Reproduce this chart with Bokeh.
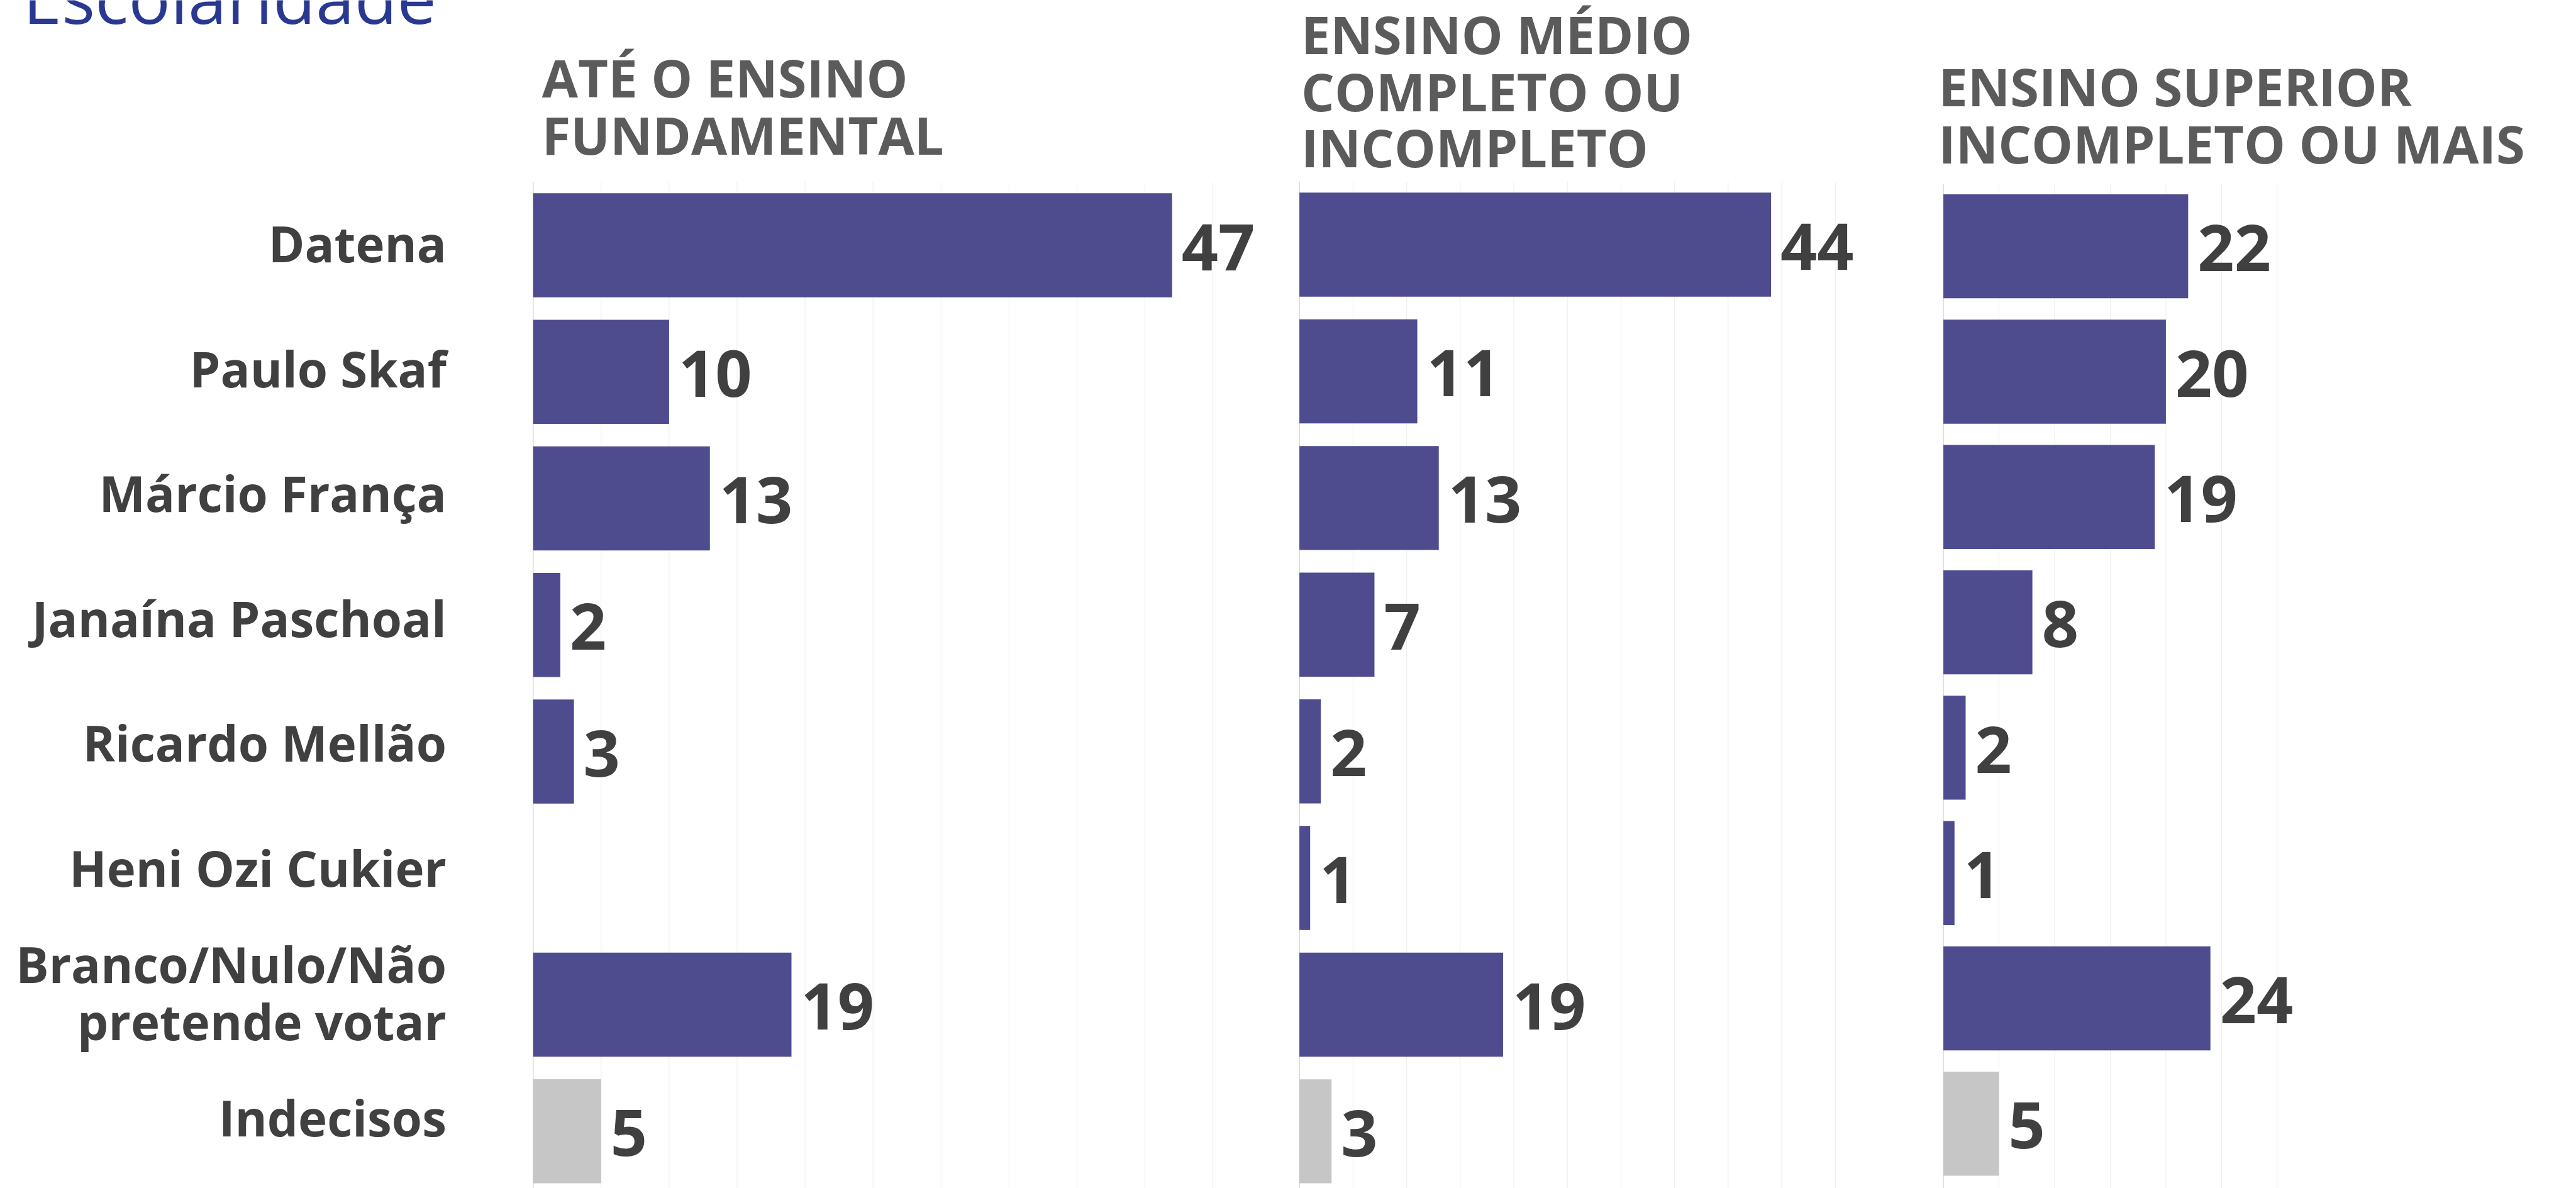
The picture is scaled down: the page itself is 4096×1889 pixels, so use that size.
from bokeh.plotting import figure
from bokeh.layouts import row
from bokeh.models import Range1d, Label, ColumnDataSource
from bokeh.core.properties import value
from bokeh.embed import file_html
from bokeh.resources import INLINE

# ---------------- data ----------------
title = "Escolaridade"
categories = ["Datena", "Paulo Skaf", "Márcio França", "Janaína Paschoal",
              "Ricardo Mellão", "Heni Ozi Cukier", "Branco/Nulo/Não\npretende votar",
              "Indecisos"]
panel_titles = ["ATÉ O ENSINO\nFUNDAMENTAL",
                "ENSINO MÉDIO\nCOMPLETO OU\nINCOMPLETO",
                "ENSINO SUPERIOR\nINCOMPLETO OU MAIS"]
fundamental = [47, 10, 13, 2, 3, None, 19, 5]
medio = [44, 11, 13, 7, 2, 1, 19, 3]
superior = [22, 20, 19, 8, 2, 1, 24, 5]
series = [fundamental, medio, superior]
grid_max = [50, 50, 30]
grid_step = 5

# ---------------- geometry (reference px, scaled by S) ----------------
S = 0.878
PAGE_W = 4096
CANVAS_H = 1889
FRAME_TOP = 0
FRAME_BOTTOM = CANVAS_H

zero_x_ref = [965.0, 2352.7, 3518.9]
unit_ref = [24.62, 19.41, 20.15]
row0_ref = [443.7, 442.5, 445.5]
pitch_ref = [229.2, 229.4, 227.0]
grid_top_ref = [328.7, 328.3, 332.3]
bar_h_ref = 188.4
cut_ref = [2300, 3450]

left_s = [0, round(cut_ref[0] * S), round(cut_ref[1] * S)]
widths = [left_s[1] - left_s[0], left_s[2] - left_s[1], PAGE_W - left_s[2]]

head_x_ref = [981.0, 2356.0, 3510.0]
head_base_ref = [[172.3, 276.3], [94.3, 198.3, 299.3], [189.0, 292.3]]

lab_right_ref = 808.0
lab_center0_ref = 440.3
lab_pitch_ref = 226.2
lab_line_ref = 103.5

title_x_ref = 41.0
title_base_ref = 39.0

CAP = 0.714
VAL_SIZE = 102
LAB_SIZE = 78
HEAD_SIZE = 83
TITLE_SIZE = 111

PURPLE = "#4e4c8f"
GRAY_BAR = "#c6c6c6"
DARK = "#404040"
HEAD_COL = "#5b5b5b"
TITLE_COL = "#293991"
GRID_COL = "#ededed"
ZERO_COL = "#d9d9d9"
FONT = "Open Sans"


def xdata(k, sx):
    return (sx - zero_x_ref[k] * S) / (unit_ref[k] * S)


def ydata(k, sy):
    return (sy - row0_ref[k] * S) / (pitch_ref[k] * S)


figs = []
for k in range(3):
    p = figure(width=widths[k], height=CANVAS_H,
               x_range=Range1d(xdata(k, left_s[k]), xdata(k, left_s[k] + widths[k])),
               y_range=Range1d(ydata(k, FRAME_BOTTOM), ydata(k, FRAME_TOP)),
               x_axis_location=None, y_axis_location=None,
               output_backend="svg", toolbar_location=None,
               min_border_left=0, min_border_right=0,
               min_border_top=0, min_border_bottom=0)
    p.outline_line_color = None
    p.background_fill_color = "white"
    p.border_fill_color = "white"
    for g in p.grid:
        g.visible = False

    # vertical gridlines, starting just above the first bar
    ticks = list(range(0, grid_max[k] + 1, grid_step))
    g_top = ydata(k, grid_top_ref[k] * S)
    g_bot = ydata(k, FRAME_BOTTOM + 5)
    p.segment(x0=ticks[1:], x1=ticks[1:], y0=[g_top] * (len(ticks) - 1),
              y1=[g_bot] * (len(ticks) - 1), line_color=GRID_COL, line_width=1)
    p.segment(x0=[ticks[0]], x1=[ticks[0]], y0=[g_top], y1=[g_bot],
              line_color=ZERO_COL, line_width=1.5)

    vals = series[k]
    pitch_s = pitch_ref[k] * S
    idx = list(range(len(categories)))
    colors = [GRAY_BAR if c == "Indecisos" else PURPLE for c in categories]
    src = ColumnDataSource(dict(
        y=idx,
        v=[float("nan") if v is None else v for v in vals],
        color=colors))
    p.hbar(y="y", left=0, right="v", height=bar_h_ref * S / pitch_s,
           fill_color="color", line_color=None, source=src)

    # value labels (vertically centred on the bar, a touch lower)
    shift = (3 * S) / pitch_s
    tx, ty, tt = [], [], []
    for i, v in enumerate(vals):
        if v is None:
            continue
        tx.append(v)
        ty.append(i + shift)
        tt.append(str(v))
    p.text(x=tx, y=ty, text=tt, x_offset=15, text_align="left",
           text_baseline="middle", text_font=value(FONT),
           text_font_style="bold", text_font_size=value(f"{VAL_SIZE}px"),
           text_color=DARK)

    # panel header (one label per line)
    for line, base in zip(panel_titles[k].split("\n"), head_base_ref[k]):
        cy = base - CAP * HEAD_SIZE / S / 2
        p.add_layout(Label(x=xdata(k, head_x_ref[k] * S), y=ydata(k, cy * S),
                           text=line, text_font=FONT, text_font_style="bold",
                           text_font_size=f"{HEAD_SIZE}px", text_color=HEAD_COL,
                           text_align="left", text_baseline="middle"))

    if k == 0:
        # category labels
        lx, ly, lt = [], [], []
        for i, c in enumerate(categories):
            lines = c.split("\n")
            n = len(lines)
            center = lab_center0_ref + lab_pitch_ref * i
            first = center - (n - 1) * lab_line_ref / 2
            for j, ln in enumerate(lines):
                lx.append(xdata(0, lab_right_ref * S))
                ly.append(ydata(0, (first + j * lab_line_ref) * S))
                lt.append(ln)
        p.text(x=lx, y=ly, text=lt, text_align="right", text_baseline="middle",
               text_font=value(FONT), text_font_style="bold",
               text_font_size=value(f"{LAB_SIZE}px"), text_color=DARK)
        # title (partly cut by the top edge, as in the original)
        cy = title_base_ref - CAP * TITLE_SIZE / S / 2
        p.add_layout(Label(x=xdata(0, title_x_ref * S), y=ydata(0, cy * S),
                           text=title, text_font=FONT, text_font_style="normal",
                           text_font_size=f"{TITLE_SIZE}px", text_color=TITLE_COL,
                           text_align="left", text_baseline="middle"))
    figs.append(p)

layout = row(*figs)
open("out.html", "w").write(file_html(layout, INLINE))
